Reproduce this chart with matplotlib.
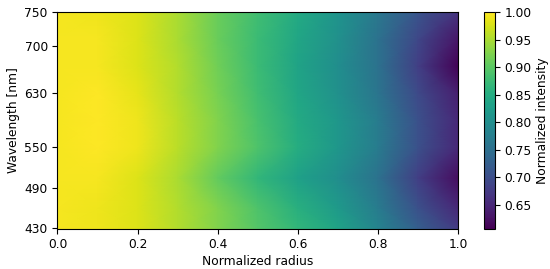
import matplotlib
matplotlib.use("Agg")
import matplotlib.pyplot as plt
import numpy as np

radius = [0.0, 0.1, 0.2, 0.3, 0.4, 0.5, 0.6, 0.7, 0.8, 0.9, 1.0]
wavelength = [430, 460, 505, 550, 590, 630, 670, 710, 750]

# normalized intensity, one row per wavelength
i_430 = [0.995, 0.99, 0.98, 0.955, 0.925, 0.895, 0.865, 0.835, 0.785, 0.725, 0.675]
i_460 = [0.995, 0.99, 0.98, 0.955, 0.925, 0.89, 0.855, 0.82, 0.77, 0.705, 0.65]
i_505 = [0.995, 0.995, 0.98, 0.95, 0.905, 0.865, 0.83, 0.80, 0.755, 0.68, 0.62]
i_550 = [0.995, 1.0, 0.99, 0.96, 0.925, 0.89, 0.85, 0.815, 0.77, 0.705, 0.65]
i_590 = [0.995, 1.0, 0.99, 0.96, 0.925, 0.885, 0.845, 0.815, 0.77, 0.705, 0.65]
i_630 = [0.995, 1.0, 0.985, 0.955, 0.92, 0.88, 0.84, 0.805, 0.76, 0.695, 0.64]
i_670 = [0.995, 0.995, 0.98, 0.955, 0.915, 0.875, 0.835, 0.80, 0.755, 0.68, 0.61]
i_710 = [0.995, 0.995, 0.98, 0.95, 0.91, 0.875, 0.84, 0.805, 0.755, 0.69, 0.63]
i_750 = [0.995, 0.99, 0.98, 0.95, 0.91, 0.88, 0.845, 0.81, 0.765, 0.71, 0.665]

y_ticks = [430, 490, 550, 630, 700, 750]
x_ticks = [0.0, 0.2, 0.4, 0.6, 0.8, 1.0]
cbar_ticks = [0.65, 0.70, 0.75, 0.80, 0.85, 0.90, 0.95, 1.00]

plt.rcParams["font.size"] = 8.85

intensity = np.array([i_430, i_460, i_505, i_550, i_590, i_630, i_670, i_710, i_750])

fig = plt.figure(figsize=(5.5, 2.69), dpi=100)
ax = fig.add_axes([57.5 / 550, 1 - 228.5 / 269, 400.5 / 550, 216.5 / 269])
mesh = ax.pcolormesh(radius, wavelength, intensity, cmap="viridis", shading="gouraud",
                     vmin=0.607, vmax=1.0)
ax.set_xticks(x_ticks)
ax.set_yticks(y_ticks)
ax.set_xlabel("Normalized radius", labelpad=2.5)
ax.set_ylabel("Wavelength [nm]", labelpad=3)

cax = fig.add_axes([484 / 550, 1 - 228.5 / 269, 10.5 / 550, 216.5 / 269])
cbar = fig.colorbar(mesh, cax=cax)
cbar.set_ticks(cbar_ticks)
cbar.set_ticklabels(["{:.2f}".format(t) for t in cbar_ticks])
cbar.set_label("Normalized intensity", labelpad=3)

fig.savefig("out.png", dpi=100)
